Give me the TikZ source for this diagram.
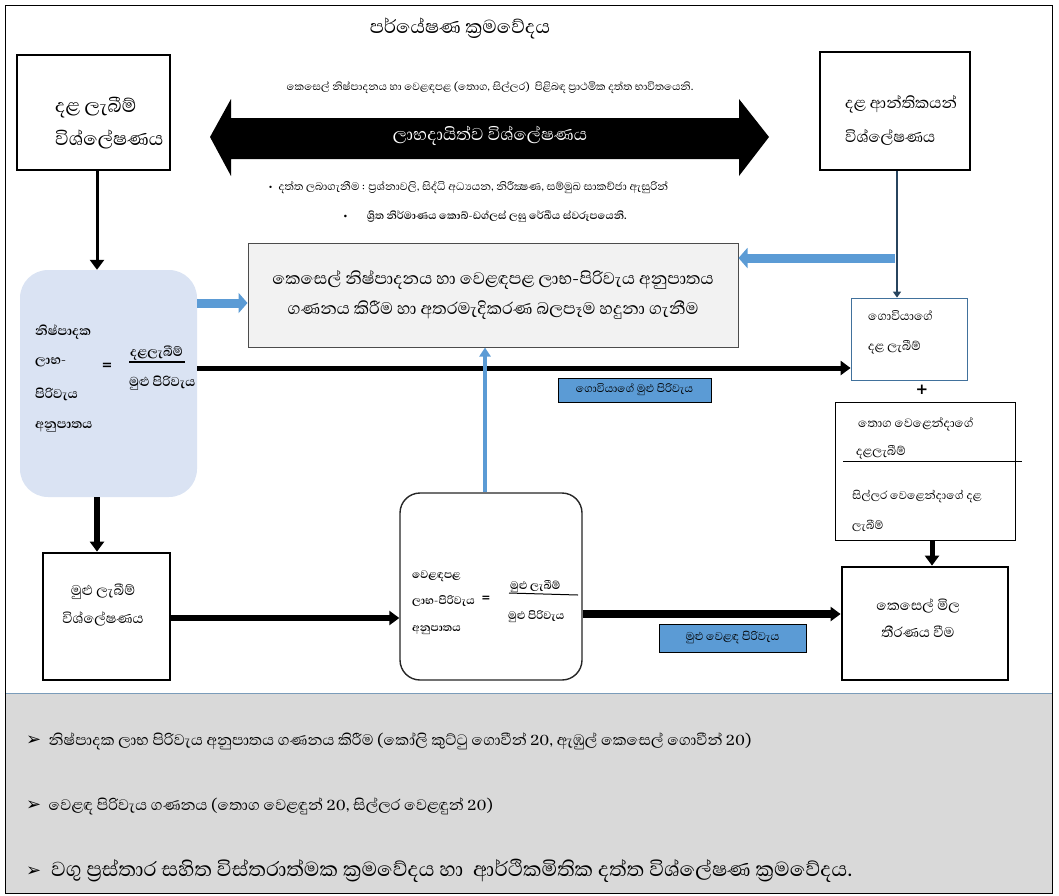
\documentclass[tikz,border=0pt]{standalone}
\usepackage{fontspec}
\setmainfont[Script=Sinhala]{Abhaya Libre}
\newfontfamily\dv{DejaVu Sans}
\usetikzlibrary{arrows.meta}
\definecolor{lblue}{HTML}{DAE3F3}
\definecolor{mblue}{HTML}{5B9BD5}
\definecolor{bborder}{HTML}{41719C}
\definecolor{panel}{HTML}{D9D9D9}
\definecolor{cgray}{HTML}{F2F2F2}
\newcommand{\fs}[1]{\fontsize{#1}{1.3\dimexpr#1pt\relax}\selectfont}
\begin{document}
\begin{tikzpicture}[x=1pt,y=-1pt,
  box/.style={draw, line width=1.6pt, fill=white, inner sep=0pt},
  thickbox/.style={draw, line width=2.8pt, fill=white, inner sep=0pt},
  lbl/.style={draw=black, line width=0.6pt, fill=mblue, inner sep=0pt},
  txt/.style={inner sep=0pt, anchor=base west},
  blk/.style={line width=#1, -{Triangle[length=10pt,width=14pt]}},
  blk/.default=5pt,
  bluearrow/.style={line width=9pt, mblue, -{Triangle[length=9pt,width=20pt]}},
  thinblue/.style={line width=3.5pt, mblue, -{Triangle[length=9pt,width=11pt]}}
]
\useasboundingbox (0,0) rectangle (1059,895);
% frame and bottom panel
\fill[panel] (5,693) rectangle (1052,893);
\draw[line width=0.8pt, bborder!70] (5,693) -- (1052,693);
\draw[line width=1pt] (5,5) rectangle (1052,893);

% title and header texts
\node[inner sep=0pt, font=\fs{24}] (title) at (460,28) {පර්යේෂණ ක්^^^^200dරමවේදය};
\node[inner sep=0pt, font=\fs{13.5}] (sub) at (490,88) {කෙසෙල් නිෂ්පාදනය හා වෙළඳපළ (තොග, සිල්ලර) \ පිළිබඳ ප්^^^^200dරාථමික දත්ත භාවිතයෙනි.};

% double arrow
\fill (210,137) -- (231,99) -- (231,118) -- (739,118) -- (739,99) -- (769,137) -- (739,176) -- (739,159) -- (231,159) -- (231,176) -- cycle;
\node[inner sep=0pt, text=white, font=\fs{22}] (profit) at (490,136) {ලාභදායිත්ව විශ්ලේෂණය};

\node[txt, font=\fs{14}] (b1) at (268,190) {\textbullet\ \ දත්ත ලබාගැනීම : ප්^^^^200dරශ්නාවලි, සිද්ධි අධ්^^^^200dයයන, නිරීක්^^^^200dෂණ, සම්මුඛ සාකච්ජා ඇසුරින්};
\node[txt, font=\fs{13.5}\bfseries] (b2) at (343,219) {\textbullet\hspace{19pt}ශ්^^^^200dරිත නිර්මාණය කොබ්-ඩග්ලස් ලඝු රේඛීය ස්වරූපයෙනි.};

% top boxes
\node[box, minimum width=153pt, minimum height=115pt] (gross) at (93.5,112.5) {};
\node[txt, font=\fs{24}] (grosst1) at (55,112) {දළ ලැබීම්};
\node[txt, font=\fs{24}] (grosst2) at (55,145) {විශ්ලේෂණය};

\node[thickbox, minimum width=150pt, minimum height=118pt] (margin) at (895,111) {};
\node[txt, font=\fs{20}] (margint1) at (845,108) {දළ ආන්තිකයන්};
\node[txt, font=\fs{20}] (margint2) at (845,142) {විශ්ලේෂණය};

% centre box
\node[draw=black!70, line width=1pt, fill=cgray, minimum width=490pt, minimum height=104pt, inner sep=0pt, align=center, font=\fs{21.5}] (centre) at (493,295) {කෙසෙල් නිෂ්පාදනය හා වෙළඳපළ ලාභ-පිරිවැය අනුපාතය\\[2pt]ගණනය කිරීම හා අතරමැදිකරණ බලපෑම හදුනා ගැනීම};

% blue rounded box
\node[fill=lblue, rounded corners=28pt, minimum width=177pt, minimum height=227pt, inner sep=0pt] (bluebox) at (108.5,383.5) {};
\node[txt, font=\fs{16.5}\bfseries] (bl1) at (35,335) {නිෂ්පාදක};
\node[txt, font=\fs{16.5}\bfseries] (bl2) at (35,364) {ලාභ-};
\node[txt, font=\fs{16.5}\bfseries] (bl3) at (35,398) {පිරිවැය};
\node[txt, font=\fs{16.5}\bfseries] (bl4) at (35,428) {අනුපාතය};
\node[inner sep=0pt, font=\dv\fs{13}\bfseries] (bleq) at (107,366) {=};
\node[txt, font=\fs{16.5}\bfseries] (blnum) at (130,356) {දළලැබීම්};
\draw[line width=1.2pt] (129,362) -- (185,362);
\node[txt, font=\fs{16.5}\bfseries] (blden) at (129,386) {මුළු පිරිවැය};

% farmer gross income box
\node[draw=bborder, line width=0.8pt, fill=white, minimum width=116pt, minimum height=82pt, inner sep=0pt] (farm) at (909,339) {};
\node[txt, font=\fs{15.5}] (farmt1) at (868,320) {ගොවියාගේ};
\node[txt, font=\fs{15.5}] (farmt2) at (868,350) {දළ ලැබීම්};
\node[inner sep=0pt, font=\dv\fs{15}\bfseries] (plus) at (922,390) {+};

% traders box
\node[draw, line width=0.8pt, fill=white, minimum width=180pt, minimum height=138pt, inner sep=0pt] (trade) at (925,471) {};
\node[txt, font=\fs{15.5}] (tr1) at (858,427) {තොග වෙළෙන්දාගේ};
\node[txt, font=\fs{15.5}] (tr2) at (856,455) {දළලැබීම්};
\draw[line width=0.8pt] (843,461) -- (1022,461);
\node[txt, font=\fs{14.5}] (tr3) at (852,499) {සිල්ලර වෙළෙන්දාගේ දළ};
\node[txt, font=\fs{14.5}] (tr4) at (852,529) {ලැබීම්};

% price box
\node[thickbox, minimum width=166pt, minimum height=113pt] (price) at (925,623.5) {};
\node[inner sep=0pt, align=center, font=\fs{18}] (pricet) at (918,618) {කෙසෙල් මිල\\[3pt]තීරණය වීම};

% total income box
\node[thickbox, minimum width=127pt, minimum height=127pt] (total) at (106.5,616.5) {};
\node[inner sep=0pt, align=center, font=\fs{18}] (totalt) at (103,605) {මුළු ලැබීම්\\[4pt]විශ්ලේෂණය};

% market ratio box
\node[draw=black!85, line width=1.4pt, fill=white, rounded corners=20pt, minimum width=182pt, minimum height=187pt, inner sep=0pt] (mid) at (491,586.5) {};
\node[txt, font=\fs{14}\bfseries] (m1) at (412,578) {වෙළඳපළ};
\node[txt, font=\fs{14}\bfseries] (m2) at (412,604) {ලාභ-පිරිවැය};
\node[txt, font=\fs{14}\bfseries] (m3) at (412,631) {අනුපාතය};
\node[inner sep=0pt, font=\dv\fs{11}\bfseries] (meq) at (486,599) {=};
\node[txt, font=\fs{14}\bfseries] (mnum) at (510,589) {මුළු ලැබීම්};
\draw[line width=1pt] (509,593) -- (578,595);
\node[txt, font=\fs{14}\bfseries] (mden) at (508,619) {මුළු පිරිවැය};

% labels
\node[lbl, minimum width=153pt, minimum height=24pt, font=\fs{14}] (lab1) at (634.5,390) {ගොවියාගේ මුළු පිරිවැය};
\node[lbl, minimum width=147pt, minimum height=28pt, font=\fs{14.5}] (lab2) at (732.5,638) {මුළු වෙළඳ පිරිවැය};

% connectors
\draw[blk=3pt] (gross.south -| 97,0) -- (bluebox.north -| 97,0);
\draw[blk=6pt] (bluebox.south -| 97,0) -- (total.north -| 97,0);
\draw[blk=6pt] (total.east |- 0,618) -- (mid.west |- 0,618);
\draw[blk=8pt] (mid.east |- 0,614) -- (price.west |- 0,614);
\draw[blk=5pt] (bluebox.east |- 0,368) -- (farm.west |- 0,368);
\draw[blk=5pt] (trade.south -| 932,0) -- (price.north -| 932,0);
\draw[line width=2pt, bborder!60!black, -{Triangle[length=6pt,width=8pt]}] (margin.south -| 897,0) -- (farm.north -| 897,0);
\draw[bluearrow] (bluebox.east |- 0,303) -- (centre.west |- 0,303);
\draw[bluearrow] (margin.south |- 0,258) -- (centre.east |- 0,258);
\draw[thinblue] (mid.north -| 485,0) -- (centre.south -| 485,0);

% bottom panel bullets
\node[txt, font=\fs{19.5}] (p1) at (26,745) {{\dv\fs{18}➢}\ \ නිෂ්පාදක ලාභ පිරිවැය අනුපාතය ගණනය කිරීම (කෝලි කුට්ටු ගොවීන් 20, ඇඹුල් කෙසෙල් ගොවීන් 20)};
\node[txt, font=\fs{19.5}] (p2) at (26,810) {{\dv\fs{18}➢}\ \ වෙළඳ පිරිවැය ගණනය (තොග වෙළඳුන් 20, සිල්ලර වෙළඳුන් 20)};
\node[txt, font=\fs{26}] (p3) at (26,876) {{\dv\fs{18}➢}\ \ වගු ප්^^^^200dරස්තාර සහිත විස්තරාත්මක ක්^^^^200dරමවේදය හා \ ආර්ථිකමිතික දත්ත විශ්ලේෂණ ක්^^^^200dරමවේදය.};
\end{tikzpicture}
\end{document}
